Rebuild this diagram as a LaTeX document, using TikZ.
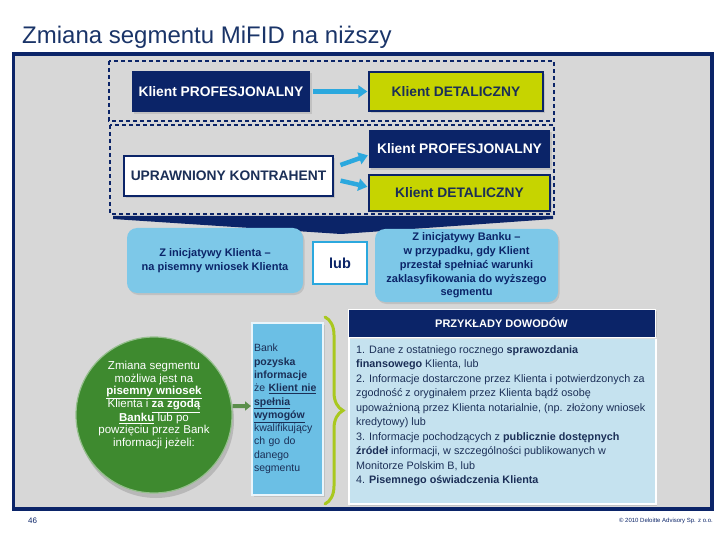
\documentclass[tikz,border=0pt]{standalone}
\usepackage{fontspec}
\setmainfont{Liberation Sans}
\usetikzlibrary{arrows.meta,shadows,decorations.pathreplacing}

\definecolor{navy}{HTML}{0B2468}
\definecolor{titlenavy}{HTML}{1A3468}
\definecolor{lime}{HTML}{C6D400}
\definecolor{arrowblue}{HTML}{2BA8DE}
\definecolor{skyblue}{HTML}{7DC8E8}
\definecolor{midblue}{HTML}{6BBFE5}
\definecolor{paleblue}{HTML}{C5E2EF}
\definecolor{framegray}{HTML}{D7D7D7}
\definecolor{bracelime}{HTML}{A9C81F}
\definecolor{circgreen}{HTML}{3E8A2F}
\definecolor{arrowgreen}{HTML}{5B8E4B}
\definecolor{textnavy}{HTML}{1B2F57}

\newcommand{\fsz}[2]{\fontsize{#1bp}{#2bp}\selectfont}

\tikzset{
  softshadow/.style={drop shadow={opacity=0.25,shadow xshift=1.5bp,shadow yshift=-2bp}},
  navybox/.style={fill=navy, text=white, inner sep=0pt, font=\bfseries\fsz{13.8}{16}, softshadow},
  limebox/.style={fill=lime, draw=navy, line width=1.3bp, text=textnavy, inner sep=0pt, font=\bfseries\fsz{13.8}{16}, softshadow},
  whitebox/.style={fill=white, draw=navy, line width=1.3bp, text=textnavy, inner sep=0pt, font=\bfseries\fsz{13.8}{16}, softshadow},
  groupbox/.style={draw=navy, line width=1.4bp, dash pattern=on 4bp off 3bp},
  bluearrow/.style={draw=arrowblue, line width=4.5bp, -{Triangle[width=12bp,length=9bp]}, shorten <=3bp, shorten >=1bp},
  roundbox/.style={fill=skyblue, rounded corners=10bp, text=navy, align=center, inner sep=0pt, font=\bfseries\fsz{11}{13.7}, softshadow},
  lubbox/.style={fill=white, draw=arrowblue, line width=2bp, text=navy, inner sep=0pt, font=\bfseries\fsz{14.5}{16}},
}

\begin{document}
\begin{tikzpicture}[x=1bp,y=-1bp]
\useasboundingbox (0,0) rectangle (720,540);

% title
\node[anchor=base west, text=titlenavy, font=\fsz{24}{28}, inner sep=0pt] (title) at (22,44) {Zmiana segmentu MiFID na niższy};

% frame
\draw[navy, line width=3.5bp, fill=framegray] (13.5,54) rectangle (712,509);

% upper dashed group
\draw[groupbox] (109,61) rectangle (554,121);
\node[navybox, minimum width=178bp, minimum height=41bp] (pro1) at (221,91.5) {Klient PROFESJONALNY};
\node[limebox, minimum width=174bp, minimum height=39bp] (det1) at (456,91.5) {Klient DETALICZNY};
\draw[bluearrow] (pro1) -- (det1);

% lower dashed group
\draw[groupbox] (110,125) rectangle (554,214);
\node[whitebox, minimum width=209bp, minimum height=40bp] (upr) at (228.5,176) {UPRAWNIONY KONTRAHENT};
\node[navybox, minimum width=181bp, minimum height=38bp] (pro2) at (459.5,149) {Klient PROFESJONALNY};
\node[limebox, minimum width=181bp, minimum height=36bp] (det2) at (459.5,193) {Klient DETALICZNY};
\draw[bluearrow] ([xshift=4bp,yshift=10bp]upr.east) -- ([yshift=-6bp]pro2.west);
\draw[bluearrow] ([xshift=4bp,yshift=-4bp]upr.east) -- ([yshift=6bp]det2.west);

% chevron
\fill[navy] (113,216) -- (553,216) -- (553,219) -- (341,234) -- (113,219) -- cycle;

% two ways
\node[roundbox, minimum width=176bp, minimum height=65bp] (klient) at (215,260.5) {Z inicjatywy Klienta --\\na pisemny wniosek Klienta};
\node[lubbox, minimum width=54bp, minimum height=42bp] (lub) at (340,263) {lub};
\node[roundbox, minimum width=183bp, minimum height=73bp] (bank) at (466.5,265.5) {Z inicjatywy Banku --\\w przypadku, gdy Klient\\przestał spełniać warunki\\zaklasyfikowania do wyższego\\segmentu};

% circle
\node[circle, minimum size=156bp, fill=circgreen, draw=circgreen!55!white, line width=1.2bp,
      drop shadow={opacity=0.35,shadow xshift=2bp,shadow yshift=-5bp}] (circ) at (154,415) {};
\node[text=white, align=center, inner sep=0pt, font=\fsz{11.5}{12.2}] (circtxt) at ([yshift=10bp]circ.center)
  {Zmiana segmentu\\możliwa jest na\\\underline{\textbf{pisemny wniosek}}\\Klienta i \underline{\textbf{za zgodą}}\\\underline{\textbf{Banku}} lub po\\powzięciu przez Bank\\informacji jeżeli:};

% bank box
\node[fill=midblue, draw=white!85!midblue, line width=2bp, minimum width=71bp, minimum height=172bp,
      text width=67bp, align=left, inner xsep=2bp, text=textnavy, font=\fsz{10.5}{13.3}, softshadow] (wym) at (287.5,409)
  {Bank\\\textbf{pozyska}\\\textbf{informacje}\\że \underline{\textbf{Klient nie}}\\\underline{\textbf{spełnia}}\\\underline{\textbf{wymogów}}\\kwalifikujący\\ch go do\\danego\\segmentu};
\draw[arrowgreen, line width=4bp, -{Triangle[width=9bp,length=6bp]}] ([yshift=9bp]circ.east) -- ([yshift=3bp]wym.west);

% brace
\draw[bracelime, line width=3bp, line cap=round, decorate, decoration={brace, amplitude=18bp}]
  ([xshift=1bp,yshift=5bp]wym.north east) -- ([xshift=1bp,yshift=-8bp]wym.south east);

% evidence
\node[fill=paleblue, draw=white, line width=1.5bp, minimum width=307bp, minimum height=166bp, anchor=north west, softshadow] (evbody) at (348,337) {};
\node[fill=navy, draw=white, line width=1bp, minimum width=307bp, minimum height=28bp, text=white,
      font=\bfseries\fsz{11}{13}, softshadow] (evhead) at (501.5,323) {PRZYKŁADY DOWODÓW};
\node[anchor=north west, align=left, inner sep=0pt, text=textnavy, font=\fsz{10.8}{14.5}] (evtxt) at (356,345)
  {1. Dane z ostatniego rocznego \textbf{sprawozdania}\\
   \textbf{finansowego} Klienta, lub\\
   2. Informacje dostarczone przez Klienta i potwierdzonych za\\
   zgodność z oryginałem przez Klienta bądź osobę\\
   upoważnioną przez Klienta notarialnie, (np. złożony wniosek\\
   kredytowy) lub\\
   3. Informacje pochodzących z \textbf{publicznie dostępnych}\\
   \textbf{źródeł} informacji, w szczególności publikowanych w\\
   Monitorze Polskim B, lub\\
   4. \textbf{Pisemnego oświadczenia Klienta}};

% footer
\node[anchor=west, text=navy, font=\fsz{8}{10}, inner sep=0pt] (page) at (28,521) {46};
\node[anchor=east, text=navy, font=\fsz{6}{8}, inner sep=0pt] (copy) at (713,521) {© 2010 Deloitte Advisory Sp. z o.o.};
\end{tikzpicture}
\end{document}
